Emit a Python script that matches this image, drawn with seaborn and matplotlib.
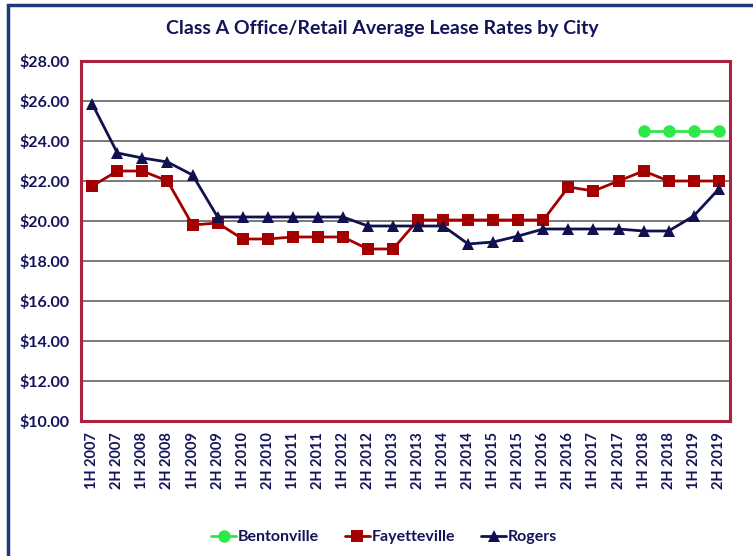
import numpy as np
import pandas as pd
import matplotlib
matplotlib.use('Agg')
import matplotlib.pyplot as plt
import seaborn as sns
from matplotlib.patches import Rectangle

# data
periods = [f'{h} {y}' for y in range(2007, 2020) for h in ('1H', '2H')]
bentonville = [np.nan] * 22 + [24.5, 24.5, 24.5, 24.5]
fayetteville = [21.75, 22.5, 22.5, 22.0, 19.8, 19.9, 19.1, 19.1, 19.2, 19.2,
                19.2, 18.6, 18.6, 20.05, 20.05, 20.05, 20.05, 20.05, 20.05,
                21.7, 21.5, 22.0, 22.5, 22.0, 22.0, 22.0]
rogers = [25.85, 23.4, 23.15, 22.95, 22.3, 20.2, 20.2, 20.2, 20.2, 20.2,
          20.2, 19.75, 19.75, 19.75, 19.75, 18.85, 18.95, 19.25, 19.6, 19.6,
          19.6, 19.6, 19.5, 19.5, 20.25, 21.6]

df = pd.DataFrame({'Bentonville': bentonville, 'Fayetteville': fayetteville,
                   'Rogers': rogers})
df['pos'] = np.arange(len(periods))
long_df = df.melt(id_vars='pos', var_name='City', value_name='Rate').dropna()

sns.set_style('white')
plt.rcParams['font.family'] = ['Lato', 'DejaVu Sans']

navy = '#14145a'
border = '#a8233b'
colors = {'Bentonville': '#2ee84a', 'Fayetteville': '#a30000', 'Rogers': '#11114f'}
markers = {'Bentonville': 'o', 'Fayetteville': 's', 'Rogers': '^'}

fig = plt.figure(figsize=(7.53, 5.56), dpi=100)
ax = fig.add_axes([0.1076, 0.2428, 0.8619, 0.6475])

sns.lineplot(data=long_df, x='pos', y='Rate', hue='City', style='City',
             palette=colors, markers=markers, dashes=False, markersize=9,
             linewidth=2, markeredgewidth=0, ax=ax, legend=True)

ax.set_ylim(10, 28)
ax.set_xlim(-0.45, len(periods) - 0.55)
ax.set_yticks(np.arange(10, 29, 2))
ax.set_yticklabels([f'${v:.2f}' for v in np.arange(10, 29, 2)],
                   fontsize=11.5, fontweight='bold', color=navy)
ax.set_xticks(range(len(periods)))
ax.set_xticklabels(periods, rotation=90, fontsize=10.5, fontweight='bold',
                   color=navy)
ax.tick_params(axis='y', length=5, width=1.5, color=border, pad=3)
ax.tick_params(axis='x', length=0, pad=8)
ax.set_xlabel('')
ax.set_ylabel('')
ax.yaxis.grid(True, color='#6e6e6e', linewidth=1.3)
ax.set_axisbelow(True)
for s in ax.spines.values():
    s.set_color(border)
    s.set_linewidth(2.2)

handles, labels = ax.get_legend_handles_labels()
ax.legend_.remove()
fig.legend(handles, labels, loc='center', bbox_to_anchor=(0.51, 0.034),
           ncol=3, frameon=False, handlelength=1.6, handletextpad=0.1,
           columnspacing=1.6, prop={'weight': 'bold', 'size': 11.5},
           labelcolor=navy)

fig.text(0.508, 0.948, 'Class A Office/Retail Average Lease Rates by City',
         ha='center', va='center', fontsize=14, fontweight='bold', color=navy)

fig.patches.append(Rectangle((0.0106, -0.05), 1.2, 1.05 - 0.009,
                             transform=fig.transFigure, fill=False,
                             edgecolor='#1b3a78', linewidth=2.5))

fig.savefig('out.png', dpi=100)
